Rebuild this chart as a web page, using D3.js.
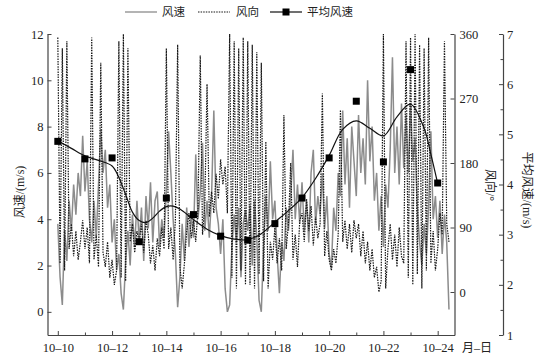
<!DOCTYPE html>
<html><head><meta charset="utf-8">
<script src="https://cdn.jsdelivr.net/npm/d3@7"></script>
<style>body{margin:0;background:#fff} svg{display:block}</style>
</head><body><svg id="c" width="548" height="360"></svg>
<script>
// time: day of October, 2-hour steps starting 10-10 00:00
const startDay = 10;
const stepHours = 2;

// wind speed (m/s), every 2 h
const speed = [
  3.8, 1.5, 0.3, 3.5, 2.2, 4.8, 3.5, 5.5, 4.2, 6.0, 5.0, 7.6,
  5.2, 6.5, 4.0, 3.0, 4.8, 3.2, 5.5, 7.9, 6.0, 7.0, 4.5, 5.5,
  3.0, 4.0, 1.8, 2.5, 0.8, 0.1, 2.2, 3.5, 2.0, 4.2, 2.8, 4.8,
  3.0, 4.5, 2.2, 5.0, 3.6, 5.6, 3.0, 4.8, 5.2, 2.8, 4.0, 3.2,
  5.2, 7.8, 6.0, 4.0, 2.5, 0.2, 1.5, 3.8, 2.2, 4.5, 2.8, 4.2,
  3.2, 6.8, 4.0, 5.2, 7.3, 3.5, 4.8, 3.2, 5.0, 8.7, 4.5, 3.8,
  2.5, 4.0, 1.0, 0.0, 0.3, 2.8, 4.2, 3.0, 4.5, 1.5, 3.8, 4.4,
  3.5, 4.6, 2.0, 4.8, 3.2, 0.5, 0.0, 2.8, 5.0, 3.5, 6.5, 4.0,
  4.8, 2.5, 0.8, 3.0, 2.2, 4.5, 3.5, 5.0, 7.0, 4.0, 5.5, 3.8,
  5.6, 3.5, 4.8, 3.0, 6.0, 7.0, 3.8, 5.0, 4.2, 6.0, 3.6, 5.0,
  2.5, 1.9, 4.5, 3.5, 6.0, 5.0, 8.7, 5.5, 7.5, 4.5, 8.0, 6.5,
  5.0, 8.5, 6.0, 7.5, 5.5, 10.0, 6.5, 8.0, 4.8, 6.0, 3.5, 5.0,
  2.8, 5.5, 4.5, 7.0, 11.0, 6.0, 8.0, 5.5, 9.0, 6.2, 8.5, 6.0,
  9.0, 6.5, 7.5, 4.5, 3.0, 2.0, 3.8, 2.5, 4.5, 7.8, 4.0, 5.0,
  3.2, 4.8, 2.5, 4.2, 3.0, 0.1
];

// wind direction (degrees), every 2 h
const direction = [
  355, 40, 340, 30, 350, 60, 95, 50, 85, 45, 70, 100,
  60, 90, 40, 355, 45, 80, 35, 320, 55, 35, 70, 20,
  45, 10, 30, 350, 20, 360, 15, 340, 70, 95, 55, 85,
  70, 95, 55, 100, 80, 40, 65, 30, 75, 50, 90, 60,
  340, 60, 90, 45, 100, 345, 35, 5, 40, 85, 110, 75,
  100, 70, 115, 330, 80, 120, 290, 105, 140, 110, 165, 130,
  185, 150, 175, 110, 360, 20, 350, 5, 340, 30, 355, 10,
  350, 10, 345, 5, 335, 25, 320, 15, 210, 5, 70, 45,
  90, 40, 75, 30, 247, 60, 95, 180, 45, 80, 35, 100,
  110, 70, 130, 85, 120, 65, 105, 75, 95, 277, 50, 85,
  45, 30, 60, 40, 80, 254, 70, 100, 60, 95, 55, 100,
  75, 95, 50, 85, 40, 70, 30, 60, 20, 35, 0, 15,
  360, 5, 60, 95, 45, 80, 35, 90, 50, 40, 350, 20,
  355, 10, 360, 25, 345, 5, 340, 30, 355, 40, 85, 30,
  60, 110, 80, 350, 95, 70
];

// daily mean wind speed
const meanDays = [10, 11, 12, 13, 14, 15, 16, 17, 18, 19, 20, 21, 22, 23, 24];
const meanSpeed = [4.86, 4.51, 4.53, 2.86, 3.73, 3.40, 2.97, 2.89, 3.22, 3.73, 4.53, 5.66, 4.45, 6.29, 4.03];

// smoothed fit of the daily mean
const fitDays = [10, 10.5, 11, 11.5, 12, 12.25, 12.5, 12.75, 13, 13.25, 13.5, 13.75, 14, 14.25, 14.5, 15, 15.5, 16, 16.5, 17, 17.5, 18, 18.5, 19, 19.5, 20, 20.5, 21, 21.5, 22, 22.5, 23, 23.5, 23.75, 24];
const fitSpeed = [4.87, 4.72, 4.57, 4.48, 4.37, 4.14, 3.80, 3.45, 3.28, 3.24, 3.33, 3.47, 3.56, 3.57, 3.51, 3.30, 3.11, 2.98, 2.91, 2.90, 3.02, 3.25, 3.48, 3.74, 4.12, 4.58, 5.10, 5.27, 5.12, 4.97, 5.35, 5.60, 5.12, 4.60, 4.02];

const xTicks = [10, 12, 14, 16, 18, 20, 22, 24];
const xTickLabels = ["10–10", "10–12", "10–14", "10–16", "10–18", "10–20", "10–22", "10–24"];
const xMinorTicks = [11, 13, 15, 17, 19, 21, 23];
const speedTicks = [0, 2, 4, 6, 8, 10, 12];
const dirTicks = [0, 90, 180, 270, 360];
const meanTicks = [1, 2, 3, 4, 5, 6, 7];
const meanMinorTicks = [1.5, 2.5, 3.5, 4.5, 5.5, 6.5];

const L = 47.5, R = 454.5, T = 34, B = 335;
const FONT = "'Liberation Serif','Times New Roman','Noto Sans CJK SC',serif";
const AX = "#444";

const svg = d3.select("#c");
const x = d3.scaleLinear().domain([9.62, 24.62]).range([L, R]);
const yS = d3.scaleLinear().domain([-1, 12]).range([B, T]);
const yD = d3.scaleLinear().domain([-60, 360]).range([B, T]);
const yM = d3.scaleLinear().domain([1, 7]).range([B, T]);

const tOf = i => startDay + i * stepHours / 24;

// series
svg.append("path")
  .attr("d", d3.line().x((d, i) => x(tOf(i))).y(d => yS(d))(speed))
  .attr("fill", "none").attr("stroke", "#8c8c8c").attr("stroke-width", 1.5);

svg.append("path")
  .attr("d", d3.line().x((d, i) => x(tOf(i))).y(d => yD(d))(direction))
  .attr("fill", "none").attr("stroke", "#161616").attr("stroke-width", 1.2)
  .attr("stroke-dasharray", "1.5,1.1");

svg.append("path")
  .attr("d", d3.line().curve(d3.curveCatmullRom).x((d, i) => x(fitDays[i])).y(d => yM(d))(fitSpeed))
  .attr("fill", "none").attr("stroke", "#111").attr("stroke-width", 1.2);

svg.append("g").selectAll("rect").data(meanSpeed).join("rect")
  .attr("x", (d, i) => x(meanDays[i]) - 3.5).attr("y", d => yM(d) - 3.5)
  .attr("width", 7).attr("height", 7).attr("fill", "#000");

// axes
function style(g) {
  g.selectAll("path.domain").attr("stroke", AX).attr("stroke-width", 1.2);
  g.selectAll(".tick line").attr("stroke", AX).attr("stroke-width", 1);
  g.selectAll("text").attr("font-family", FONT).attr("font-size", 12.5).attr("fill", "#222");
}

const gx = svg.append("g").attr("transform", `translate(0,${B})`)
  .call(d3.axisBottom(x).tickValues(xTicks).tickFormat((d, i) => xTickLabels[i]).tickSizeInner(-4).tickSizeOuter(0).tickPadding(8));
style(gx);
const gxm = svg.append("g").attr("transform", `translate(0,${B})`)
  .call(d3.axisBottom(x).tickValues(xMinorTicks).tickFormat("").tickSizeInner(-2.5).tickSizeOuter(0));
style(gxm); gxm.select("path.domain").remove();

const gl = svg.append("g").attr("transform", `translate(${L},0)`)
  .call(d3.axisLeft(yS).tickValues(speedTicks).tickSizeInner(-4).tickSizeOuter(0).tickPadding(4));
style(gl);

const gd = svg.append("g").attr("transform", `translate(${R},0)`)
  .call(d3.axisRight(yD).tickValues(dirTicks).tickSizeInner(-4).tickSizeOuter(0).tickPadding(5));
style(gd);

const MX = 503;
const gm = svg.append("g").attr("transform", `translate(${MX},0)`)
  .call(d3.axisRight(yM).tickValues(meanTicks).tickFormat(d3.format("d")).tickSizeInner(-4).tickSizeOuter(0).tickPadding(4));
style(gm);
const gmm = svg.append("g").attr("transform", `translate(${MX},0)`)
  .call(d3.axisRight(yM).tickValues(meanMinorTicks).tickFormat("").tickSizeInner(-2.5).tickSizeOuter(0));
style(gmm); gmm.select("path.domain").remove();

// axis titles
svg.append("text").attr("transform", "translate(24,192) rotate(-90)")
  .attr("text-anchor", "middle").attr("font-family", FONT).attr("font-size", 12).attr("fill", "#222")
  .text("风速/(m/s)");
svg.append("text").attr("transform", "translate(486,185) rotate(90)")
  .attr("text-anchor", "middle").attr("font-family", FONT).attr("font-size", 12).attr("fill", "#222")
  .text("风向/°");
svg.append("text").attr("transform", "translate(523,190) rotate(90)")
  .attr("text-anchor", "middle").attr("font-family", FONT).attr("font-size", 12).attr("fill", "#222")
  .text("平均风速/(m/s)");
svg.append("text").attr("x", 462).attr("y", 352)
  .attr("font-family", FONT).attr("font-size", 12).attr("fill", "#222").text("月–日");

// legend
const LY = 12;
const lg = svg.append("g");
lg.append("line").attr("x1", 125).attr("x2", 157).attr("y1", LY).attr("y2", LY).attr("stroke", "#8c8c8c").attr("stroke-width", 1.3);
lg.append("text").attr("x", 162).attr("y", LY + 4).attr("font-family", FONT).attr("font-size", 11.5).attr("fill", "#222").text("风速");
lg.append("line").attr("x1", 198).attr("x2", 230).attr("y1", LY).attr("y2", LY).attr("stroke", "#161616").attr("stroke-width", 1.1).attr("stroke-dasharray", "1.5,1.1");
lg.append("text").attr("x", 236).attr("y", LY + 4).attr("font-family", FONT).attr("font-size", 11.5).attr("fill", "#222").text("风向");
lg.append("line").attr("x1", 270).attr("x2", 302).attr("y1", LY).attr("y2", LY).attr("stroke", "#111").attr("stroke-width", 1.2);
lg.append("rect").attr("x", 282.5).attr("y", LY - 3.5).attr("width", 7).attr("height", 7).attr("fill", "#000");
lg.append("text").attr("x", 307).attr("y", LY + 4).attr("font-family", FONT).attr("font-size", 11.5).attr("fill", "#222").text("平均风速");
</script></body></html>
